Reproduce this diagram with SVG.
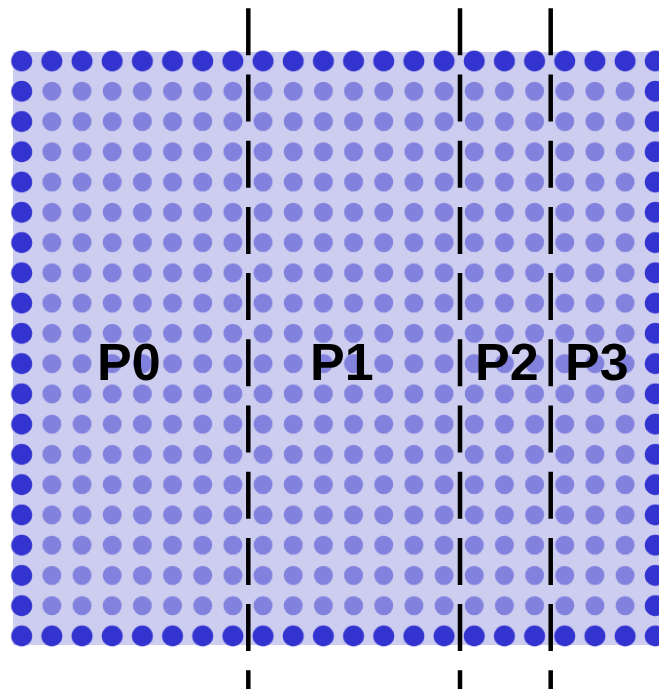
<svg xmlns="http://www.w3.org/2000/svg" width="659" height="689" viewBox="0 0 659 689">
  <style>
    .lbl { font-family: "Liberation Sans", Arial, sans-serif; font-weight: bold; font-size: 52px; fill: #000; }
    .cut { stroke: #000; stroke-width: 4.5; stroke-dasharray: 47 19.2; fill: none; }
  </style>
  <defs>
    <pattern id="light" patternUnits="userSpaceOnUse" x="6.615" y="45.87" width="30.17" height="30.26">
      <circle cx="15.085" cy="15.13" r="9.5" fill="#8282de"/>
    </pattern>
    <pattern id="dark" patternUnits="userSpaceOnUse" x="6.615" y="45.87" width="30.17" height="30.26">
      <circle cx="15.085" cy="15.13" r="10.5" fill="#3333d0"/>
    </pattern>
  </defs>
  <rect width="659" height="689" fill="#ffffff"/>
  <g id="domain">
    <rect x="13" y="52" width="646" height="593" fill="#cdcdf0"/>
    <rect x="36.785" y="76.13" width="603.4" height="544.68" fill="url(#light)"/>
    <rect x="6.615" y="45.87" width="663.74" height="30.26" fill="url(#dark)"/>
    <rect x="6.615" y="620.81" width="663.74" height="30.26" fill="url(#dark)"/>
    <rect x="6.615" y="76.13" width="30.17" height="544.68" fill="url(#dark)"/>
    <rect x="640.185" y="76.13" width="30.17" height="544.68" fill="url(#dark)"/>
  </g>
  <g id="connectors">
    <line class="cut" x1="248.3" y1="8.3" x2="248.3" y2="689"/>
    <line class="cut" x1="460" y1="8.3" x2="460" y2="689"/>
    <line class="cut" x1="550.7" y1="8.3" x2="550.7" y2="689"/>
  </g>
  <g id="P0"><text class="lbl" x="97" y="380">P0</text></g>
  <g id="P1"><text class="lbl" x="310" y="380">P1</text></g>
  <g id="P2"><text class="lbl" x="475" y="380">P2</text></g>
  <g id="P3"><text class="lbl" x="565" y="380">P3</text></g>
</svg>
